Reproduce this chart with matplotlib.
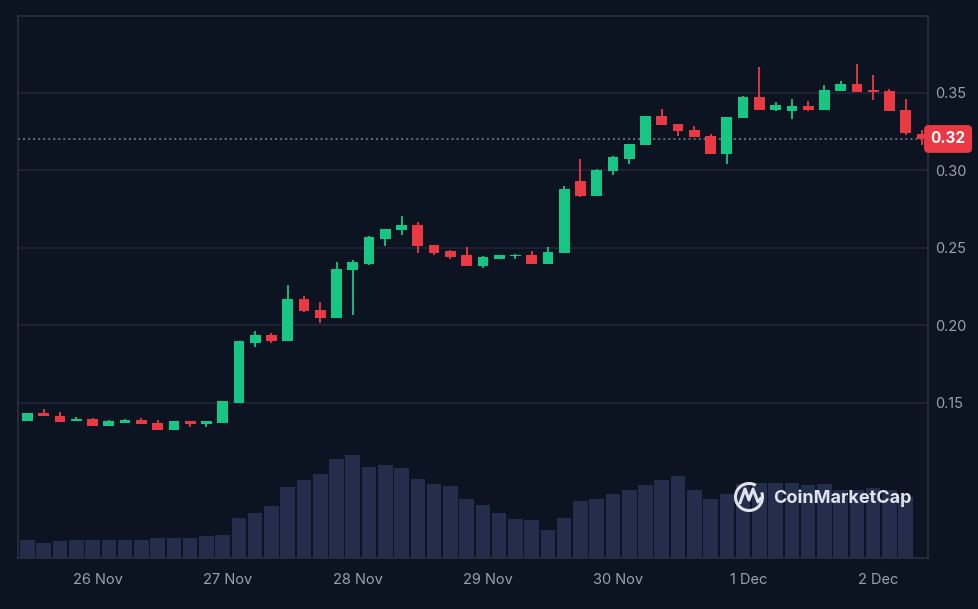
import matplotlib
matplotlib.use('Agg')
import matplotlib.pyplot as plt
from matplotlib.patches import Arc
import numpy as np

# 3-hour candles, first one at 25 Nov 11:00
opens = [0.1383, 0.1437, 0.1414, 0.1383, 0.1398, 0.1349, 0.1372, 0.1391, 0.1372, 0.1325,
         0.1381, 0.1366, 0.1372, 0.1501, 0.1889, 0.1937, 0.1898, 0.2171, 0.2100, 0.2050,
         0.2359, 0.2399, 0.2559, 0.2617, 0.2649, 0.2520, 0.2481, 0.2455, 0.2380, 0.2430,
         0.2447, 0.2455, 0.2397, 0.2465, 0.2933, 0.2832, 0.2994, 0.3076, 0.3164, 0.3353,
         0.3301, 0.3263, 0.3224, 0.3108, 0.3336, 0.3472, 0.3392, 0.3384, 0.3413, 0.3392,
         0.3510, 0.3560, 0.3513, 0.3513, 0.3392, 0.3235]
highs = [0.1437, 0.1461, 0.1440, 0.1407, 0.1405, 0.1392, 0.1398, 0.1405, 0.1392, 0.1381,
         0.1381, 0.1381, 0.1512, 0.1898, 0.1964, 0.1953, 0.2262, 0.2190, 0.2150, 0.2406,
         0.2421, 0.2578, 0.2623, 0.2707, 0.2664, 0.2520, 0.2488, 0.2503, 0.2445, 0.2455,
         0.2462, 0.2481, 0.2503, 0.2899, 0.3076, 0.3011, 0.3095, 0.3172, 0.3353, 0.3399,
         0.3301, 0.3289, 0.3237, 0.3345, 0.3483, 0.3668, 0.3439, 0.3461, 0.3446, 0.3554,
         0.3578, 0.3689, 0.3618, 0.3528, 0.3463, 0.3263]
lows = [0.1383, 0.1415, 0.1373, 0.1383, 0.1351, 0.1349, 0.1372, 0.1366, 0.1325, 0.1325,
        0.1346, 0.1346, 0.1372, 0.1501, 0.1863, 0.1889, 0.1898, 0.2083, 0.2018, 0.2050,
        0.2068, 0.2389, 0.2509, 0.2585, 0.2470, 0.2455, 0.2430, 0.2380, 0.2371, 0.2430,
        0.2430, 0.2397, 0.2397, 0.2465, 0.2826, 0.2832, 0.2968, 0.3043, 0.3164, 0.3295,
        0.3220, 0.3213, 0.3108, 0.3043, 0.3336, 0.3392, 0.3381, 0.3334, 0.3381, 0.3392,
        0.3510, 0.3504, 0.3457, 0.3381, 0.3231, 0.3166]
closes = [0.1437, 0.1415, 0.1373, 0.1398, 0.1351, 0.1381, 0.1389, 0.1366, 0.1325, 0.1381,
          0.1366, 0.1381, 0.1512, 0.1898, 0.1937, 0.1898, 0.2171, 0.2092, 0.2050, 0.2365,
          0.2406, 0.2567, 0.2623, 0.2649, 0.2509, 0.2470, 0.2444, 0.2380, 0.2441, 0.2455,
          0.2455, 0.2397, 0.2473, 0.2882, 0.2832, 0.3005, 0.3087, 0.3172, 0.3353, 0.3295,
          0.3252, 0.3213, 0.3108, 0.3345, 0.3472, 0.3392, 0.3424, 0.3413, 0.3392, 0.3519,
          0.3560, 0.3504, 0.3508, 0.3381, 0.3242, 0.3203]
# volume in millions (last, still open candle has no bar)
volumes = [8.9, 7.5, 8.2, 8.9, 8.9, 8.9, 8.9, 8.9, 10.0, 10.0, 10.0, 10.7, 11.4, 19.9,
           22.5, 25.7, 35.5, 38.7, 41.9, 49.4, 51.4, 45.5, 46.4, 44.9, 39.4, 37.0, 35.7,
           29.4, 26.4, 22.5, 19.4, 18.9, 13.9, 20.0, 28.2, 29.4, 31.9, 33.7, 36.4, 38.9,
           40.7, 33.7, 29.4, 31.9, 37.0, 37.5, 37.5, 37.5, 36.4, 36.9, 33.9, 33.9, 35.0,
           33.9, 30.5]
tick_days = [1, 2, 3, 4, 5, 6, 7]
tick_labels = ['26 Nov', '27 Nov', '28 Nov', '29 Nov', '30 Nov', '1 Dec', '2 Dec']
price_ticks = [0.15, 0.20, 0.25, 0.30, 0.35]

BG = '#0d1421'
GREEN = '#16c784'
RED = '#ea3943'
GRID = '#222736'
TXT = '#9aa0b0'

plt.rcParams['font.family'] = ['Inter', 'DejaVu Sans']

o = np.array(opens)
h = np.array(highs)
l = np.array(lows)
c = np.array(closes)
x = 11 / 24 + np.arange(len(o)) / 8  # days since 25 Nov 00:00
cols = np.where(c >= o, GREEN, RED)
cols[52] = RED

fig = plt.figure(figsize=(9.79, 6.09), dpi=100, facecolor=BG)
pos = [18.5 / 979, (609 - 557.7) / 609, 910 / 979, 542.2 / 609]
xlim = (x[0] - 0.554 / 8, x[0] + 55.4 / 8)

# volume axes underneath
vax = fig.add_axes(pos)
vax.set_facecolor(BG)
vx = x[:len(volumes)]
vax.bar(vx, volumes, width=0.112, color='#242e4c', linewidth=0)
vax.set_xlim(xlim)
vax.set_ylim(0, 271)
vax.axis('off')

ax = fig.add_axes(pos, sharex=vax)
ax.set_facecolor('none')
ax.set_ylim(0.05, 0.40)
ax.set_xlim(xlim)

for yv in price_ticks:
    ax.axhline(yv, color=GRID, lw=1.2, zorder=0)

ax.vlines(x, l, h, colors=cols, lw=1.3, zorder=2)
bottoms = np.minimum(o, c)
heights = np.maximum(np.abs(c - o), 0.0008)
ax.bar(x, heights, bottom=bottoms, width=0.0825, color=cols, zorder=3)

last = closes[-1]
ax.axhline(last, color='#7d8494', lw=1.1, ls=(0, (1.3, 2.0)), zorder=1)

ax.set_xticks(tick_days)
ax.set_xticklabels(tick_labels)
ax.yaxis.tick_right()
ax.set_yticks(price_ticks)
ax.set_yticklabels(['%.2f' % v for v in price_ticks])
ax.tick_params(axis='x', length=0, pad=11, labelsize=10.5, labelcolor=TXT)
ax.tick_params(axis='y', length=0, pad=5, labelsize=10.5, labelcolor=TXT)
for s in ax.spines.values():
    s.set_color('#2a2f3e')
    s.set_linewidth(1.2)

# current price tag
ax.text(1.0215, last, '%.2f' % last, transform=ax.get_yaxis_transform(),
        ha='center', va='center', fontsize=11, fontweight='bold', color='white',
        bbox=dict(boxstyle='round,pad=0.42,rounding_size=0.3', fc=RED, ec='none'),
        clip_on=False, zorder=5)

# watermark
ov = fig.add_axes([0, 0, 1, 1])
ov.set_xlim(0, 979)
ov.set_ylim(609, 0)
ov.axis('off')
ov.add_patch(Arc((749, 497), 27, 27, theta1=-20, theta2=300, color='#dfe3ea', lw=2.2))
ov.plot([740, 745, 749, 753, 758, 761], [503, 489, 500, 489, 502, 498],
        color='#dfe3ea', lw=2.2, solid_capstyle='round', solid_joinstyle='round')
ov.text(773, 498, 'CoinMarketCap', fontsize=13, fontweight='bold', color='#dfe3ea',
        ha='left', va='center')

fig.savefig('out.png', dpi=100, facecolor=BG)
